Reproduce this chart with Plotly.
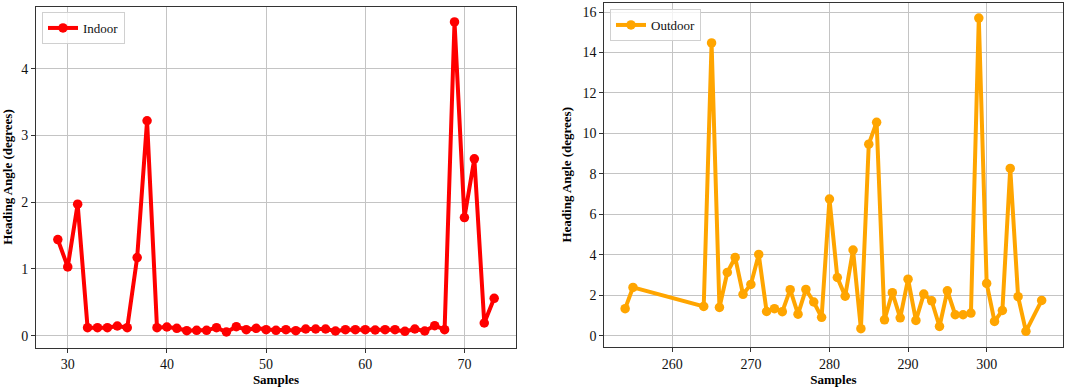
import plotly.graph_objects as go

# ---- data ----
indoor_x = list(range(29, 74))
indoor_y = [1.44, 1.03, 1.97, 0.12, 0.12, 0.12, 0.145, 0.12, 1.17, 3.22,
            0.12, 0.13, 0.11, 0.075, 0.08, 0.08, 0.12, 0.055, 0.135, 0.09,
            0.11, 0.09, 0.08, 0.09, 0.075, 0.10, 0.10, 0.10, 0.07, 0.09,
            0.09, 0.09, 0.085, 0.09, 0.09, 0.065, 0.10, 0.07, 0.15, 0.09,
            4.70, 1.77, 2.65, 0.19, 0.56]

outdoor_x = [254, 255, 264, 265, 266, 267, 268, 269, 270, 271, 272, 273, 274,
             275, 276, 277, 278, 279, 280, 281, 282, 283, 284, 285, 286, 287,
             288, 289, 290, 291, 292, 293, 294, 295, 296, 297, 298, 299, 300,
             301, 302, 303, 304, 305, 307]
outdoor_y = [1.34, 2.39, 1.45, 14.47, 1.40, 3.13, 3.87, 2.05, 2.54, 4.02,
             1.20, 1.34, 1.19, 2.28, 1.07, 2.29, 1.67, 0.91, 6.76, 2.88,
             1.96, 4.24, 0.35, 9.47, 10.55, 0.79, 2.13, 0.89, 2.80, 0.76,
             2.06, 1.73, 0.46, 2.22, 1.04, 1.04, 1.12, 15.70, 2.59, 0.71,
             1.25, 8.27, 1.93, 0.22, 1.75]

FONT = "Liberation Serif, Times New Roman, serif"
W, H = 1065, 387
TXT = "#111111"


def fx(px):
    return px / W


def fy(py):
    return 1 - py / H


fig = go.Figure()
fig.add_trace(go.Scatter(x=indoor_x, y=indoor_y, mode="lines+markers", name="Indoor",
                         line=dict(color="#FF0000", width=4),
                         marker=dict(color="#FF0000", size=9.5),
                         xaxis="x", yaxis="y", legend="legend"))
fig.add_trace(go.Scatter(x=outdoor_x, y=outdoor_y, mode="lines+markers", name="Outdoor",
                         line=dict(color="#FFA500", width=4),
                         marker=dict(color="#FFA500", size=9.5),
                         xaxis="x2", yaxis="y2", legend="legend2"))

axis_common = dict(showline=True, mirror=True, linecolor="#333333", linewidth=1,
                   ticks="outside", ticklen=4, tickcolor="#333333",
                   showgrid=True, gridcolor="#c4c4c4", gridwidth=1, zeroline=False,
                   tickfont=dict(family=FONT, size=14, color=TXT),
                   automargin=False)
title_font = dict(family=FONT, size=13, color="#000000", weight="bold")

fig.update_layout(
    width=W, height=H,
    margin=dict(l=0, r=0, t=0, b=0),
    paper_bgcolor="white", plot_bgcolor="white",
    font=dict(family=FONT, size=13, color=TXT),
    xaxis=dict(domain=[fx(36), fx(516)], range=[26.8, 75.2], dtick=10, anchor="y",
               title=dict(text="<b>Samples</b>", font=title_font, standoff=2), **axis_common),
    yaxis=dict(domain=[fy(347.5), fy(6.6)], range=[-0.177, 4.93], dtick=1,
               anchor="x",
               title=dict(text="<b>Heading Angle (degrees)</b>", font=title_font, standoff=7),
               **axis_common),
    xaxis2=dict(domain=[fx(604.3), fx(1062.5)], range=[251.35, 309.65], dtick=10,
                anchor="y2",
                title=dict(text="<b>Samples</b>", font=title_font, standoff=2), **axis_common),
    yaxis2=dict(domain=[fy(347), fy(2.5)], range=[-0.554, 16.47], dtick=2,
                anchor="x2",
                title=dict(text="<b>Heading Angle (degrees)</b>", font=title_font, standoff=7),
                **axis_common),
    legend=dict(x=fx(42), y=fy(12), xanchor="left", yanchor="top",
                bgcolor="rgba(255,255,255,0.8)", bordercolor="#d0d0d0", borderwidth=1,
                font=dict(family=FONT, size=13, color=TXT)),
    legend2=dict(x=fx(610), y=fy(9), xanchor="left", yanchor="top",
                 bgcolor="rgba(255,255,255,0.8)", bordercolor="#d0d0d0", borderwidth=1,
                 font=dict(family=FONT, size=13, color=TXT)),
    showlegend=True,
)

fig.write_html("out.html", config={"displayModeBar": False},
               post_script="document.body.style.margin='0';document.body.style.overflow='hidden';")
